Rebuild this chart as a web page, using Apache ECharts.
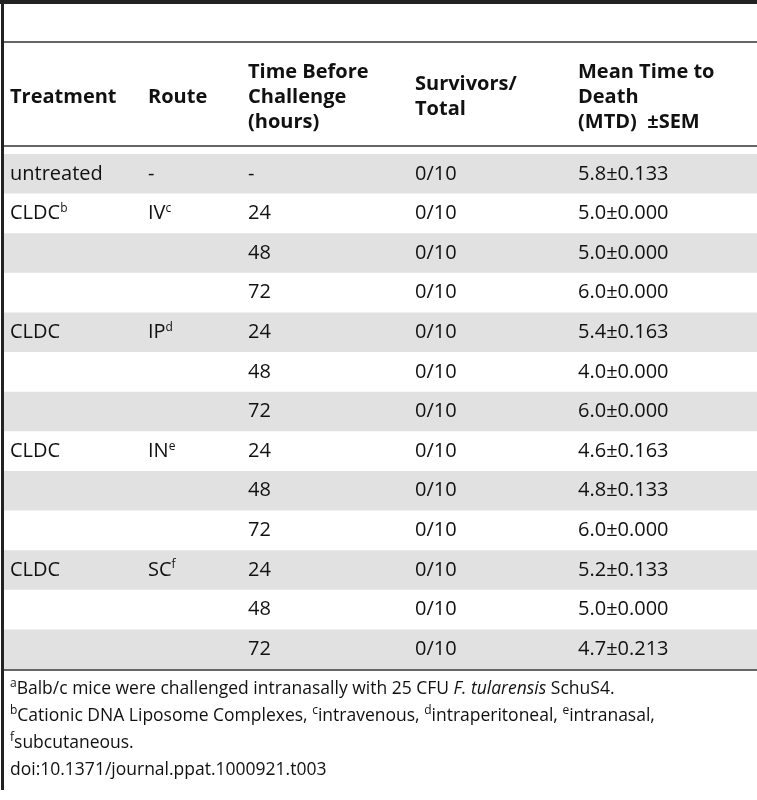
<!DOCTYPE html>
<html><head><meta charset="utf-8">
<script src="https://cdn.jsdelivr.net/npm/echarts@6/dist/echarts.min.js"></script>
<style>html,body{margin:0;padding:0;background:#fff}#c{width:757px;height:800px}</style>
</head><body><div id="c"></div>
<script>
const headers = ["Treatment", "Route", "Time Before\nChallenge\n(hours)", "Survivors/\nTotal", "Mean Time to\nDeath\n(MTD)  \u00b1SEM"];
const treatments = ["untreated","CLDC{s|b}","","","CLDC","","","CLDC","","","CLDC","",""];
const routes = ["-","IV{s|c}","","","IP{s|d}","","","IN{s|e}","","","SC{s|f}","",""];
const hours = ["-","24","48","72","24","48","72","24","48","72","24","48","72"];
const survivors = ["0/10","0/10","0/10","0/10","0/10","0/10","0/10","0/10","0/10","0/10","0/10","0/10","0/10"];
const mtd = [5.8,5.0,5.0,6.0,5.4,4.0,6.0,4.6,4.8,6.0,5.2,5.0,4.7];
const sem = [0.133,0.000,0.000,0.000,0.163,0.000,0.000,0.163,0.133,0.000,0.133,0.000,0.213];
const footnotes = [
 "{s|a}Balb/c mice were challenged intranasally with 25 CFU {i|F. tularensis} SchuS4.",
 "{s|b}Cationic DNA Liposome Complexes, {s|c}intravenous, {s|d}intraperitoneal, {s|e}intranasal,",
 "{s|f}subcutaneous.",
 "doi:10.1371/journal.ppat.1000921.t003"];
const colX = [10,148,248,415,578];
const font = '"Open Sans", sans-serif';
const rich = {s:{fontSize:12,verticalAlign:'top',padding:[0,0,10,0],fontFamily:font,fill:'#111'},i:{fontStyle:'italic',fontSize:17.5,fontFamily:font,fill:'#111'}};
const el = [];
const n = mtd.length, top0 = 154, rh = (669-154)/n;
el.push({type:'rect',shape:{x:0,y:0,width:757,height:4},style:{fill:'#222'}});
el.push({type:'rect',shape:{x:1,y:0,width:3,height:790},style:{fill:'#222'}});
el.push({type:'line',shape:{x1:4,y1:42,x2:757,y2:42},style:{stroke:'#333',lineWidth:1.5}});
el.push({type:'line',shape:{x1:4,y1:146,x2:757,y2:146},style:{stroke:'#333',lineWidth:1.5}});
el.push({type:'line',shape:{x1:4,y1:670,x2:757,y2:670},style:{stroke:'#333',lineWidth:1.5}});
headers.forEach((h,j)=>el.push({type:'text',x:colX[j],y:97,style:{text:h,font:'bold 20px '+font,fill:'#111',verticalAlign:'middle',lineHeight:25}}));
for(let r=0;r<n;r++){
  const y = top0 + r*rh;
  if(r%2===0) el.push({type:'rect',shape:{x:4,y:y,width:753,height:rh},style:{fill:'#e1e1e1'}});
  const cy = y+rh/2;
  const cells=[treatments[r],routes[r],hours[r],survivors[r],mtd[r].toFixed(1)+'\u00b1'+sem[r].toFixed(3)];
  cells.forEach((t,j)=>{ if(t) el.push({type:'text',x:colX[j],y:cy,style:{text:t,font:'20px '+font,fill:'#111',verticalAlign:'middle',rich:rich}})});
}
footnotes.forEach((t,k)=>el.push({type:'text',x:10,y:689+k*27,style:{text:t,font:'17.5px '+font,fill:'#111',verticalAlign:'middle',rich:rich}}));
const chart = echarts.init(document.getElementById('c'));
chart.setOption({animation:false,graphic:{elements:el}});
</script></body></html>
